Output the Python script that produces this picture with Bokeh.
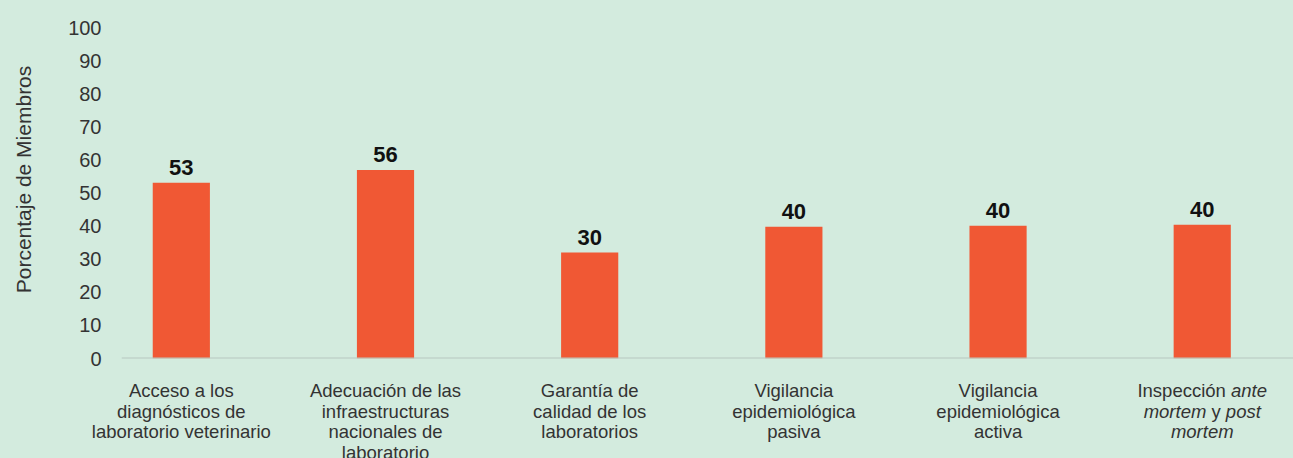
from bokeh.plotting import figure
from bokeh.models import ColumnDataSource, Range1d, FixedTicker
from bokeh.core.properties import value
from bokeh.embed import file_html
from bokeh.resources import INLINE

# ---------------- data ----------------
categories = [
    "Acceso a los\ndiagnósticos de\nlaboratorio veterinario",
    "Adecuación de las\ninfraestructuras\nnacionales de\nlaboratorio",
    "Garantía de\ncalidad de los\nlaboratorios",
    "Vigilancia\nepidemiológica\npasiva",
    "Vigilancia\nepidemiológica\nactiva",
    "Inspección *ante*\n*mortem* y *post*\n*mortem*",
]
bar_heights = [53.1, 57.0, 32.0, 39.8, 40.1, 40.4]
value_labels = ["53", "56", "30", "40", "40", "40"]
y_ticks = [0, 10, 20, 30, 40, 50, 60, 70, 80, 90, 100]
y_title = "Porcentaje de Miembros"

# ---------------- style ----------------
BG = "#D3EBDE"
BAR = "#F05834"
AXIS = "#B7C7BF"
TXT = "#333333"
FONT = "Liberation Sans"
CAT_FS = 18.5
W = 1293
FRAME_H = 358          # chart frame height (baseline position)
H_TOP = 372            # chart canvas height (room for the "0" label)
H_BOT = 458 - H_TOP    # category label strip
LEFT = 121
LINE0 = 390 - H_TOP    # centre of first label line inside the strip
PITCH = 20.7
X0, X1 = -0.293, 5.447
UNIT = (W - LEFT) / (X1 - X0)
Y_TOP = 108.2

CW = {' ': 278, 'I': 278, 'a': 556, 'c': 500, 'e': 556, 'i': 222, 'm': 833,
      'n': 556, 'o': 556, 'ó': 556, 'p': 556, 'r': 333, 's': 500, 't': 278,
      'y': 500, 'l': 222, 'd': 556}


def seg_width(s):
    return sum(CW.get(ch, 556) for ch in s) * CAT_FS / 1000.0


xs = list(range(len(categories)))

# ---------------- chart ----------------
p = figure(width=W, height=H_TOP,
           x_range=Range1d(X0, X1), y_range=Range1d(0, Y_TOP),
           output_backend="svg", toolbar_location=None,
           x_axis_location=None,
           min_border_left=LEFT, min_border_right=0,
           min_border_top=0, min_border_bottom=H_TOP - FRAME_H)
p.background_fill_color = BG
p.border_fill_color = BG
p.outline_line_color = None
p.grid.visible = False

p.vbar(x=xs, top=bar_heights, bottom=0, width=0.28,
       fill_color=BAR, line_color=None)

p.text(x=xs, y=bar_heights, text=value_labels,
       text_align="center", text_baseline="middle", y_offset=-15,
       text_font=value(FONT), text_font_size="22px",
       text_font_style="bold", text_color="#111111")

ya = p.yaxis[0]
ya.ticker = FixedTicker(ticks=y_ticks)
ya.axis_line_color = None
ya.major_tick_line_color = None
ya.minor_tick_line_color = None
ya.major_label_standoff = 14
ya.major_label_text_font = FONT
ya.major_label_text_font_size = "20px"
ya.major_label_text_color = TXT
ya.axis_label = y_title
ya.axis_label_text_font = FONT
ya.axis_label_text_font_size = "21px"
ya.axis_label_text_font_style = "normal"
ya.axis_label_text_color = TXT
ya.axis_label_standoff = 30

# baseline
p.segment(x0=[X0], x1=[X1], y0=[0], y1=[0], line_color=AXIS, line_width=2)

# ---------------- category labels strip ----------------
rows = dict(x=[], y=[], text=[], xo=[], yo=[], style=[], align=[])


def add(i, t, xo, yo, style, align):
    rows["x"].append(i)
    rows["y"].append(0)
    rows["text"].append(t)
    rows["xo"].append(xo)
    rows["yo"].append(yo)
    rows["style"].append(style)
    rows["align"].append(align)


for i, lab in enumerate(categories):
    for j, line in enumerate(lab.split("\n")):
        parts = line.split("*")
        yo = LINE0 + j * PITCH
        if len(parts) == 1:
            add(i, line, 0, yo, "normal", "center")
        else:
            total = sum(seg_width(pt) for pt in parts)
            cur = -total / 2.0
            for k, pt in enumerate(parts):
                if pt == "":
                    continue
                lead = len(pt) - len(pt.lstrip(" "))
                trail = len(pt) - len(pt.rstrip(" "))
                core = pt.strip(" ")
                cur += seg_width(" " * lead)
                add(i, core, cur, yo, "italic" if k % 2 else "normal", "left")
                cur += seg_width(core) + seg_width(" " * trail)

q = figure(width=W, height=H_BOT,
           x_range=Range1d(X0 - LEFT / UNIT, X1), y_range=Range1d(-H_BOT, 0),
           output_backend="svg", toolbar_location=None,
           x_axis_location=None, y_axis_location=None,
           min_border_left=0, min_border_right=0,
           min_border_top=0, min_border_bottom=0)
q.background_fill_color = BG
q.border_fill_color = BG
q.outline_line_color = None
q.grid.visible = False

q.text(x="x", y="y", text="text", x_offset="xo", y_offset="yo",
       text_font_style="style", text_align="align",
       text_baseline="middle", text_font=value(FONT),
       text_font_size="18.5px", text_color=TXT,
       source=ColumnDataSource(rows))

html = file_html([p, q], INLINE)
html = html.replace("</head>",
                    "<style>html, body { background-color: %s; }</style></head>" % BG, 1)
open("out.html", "w").write(html)
